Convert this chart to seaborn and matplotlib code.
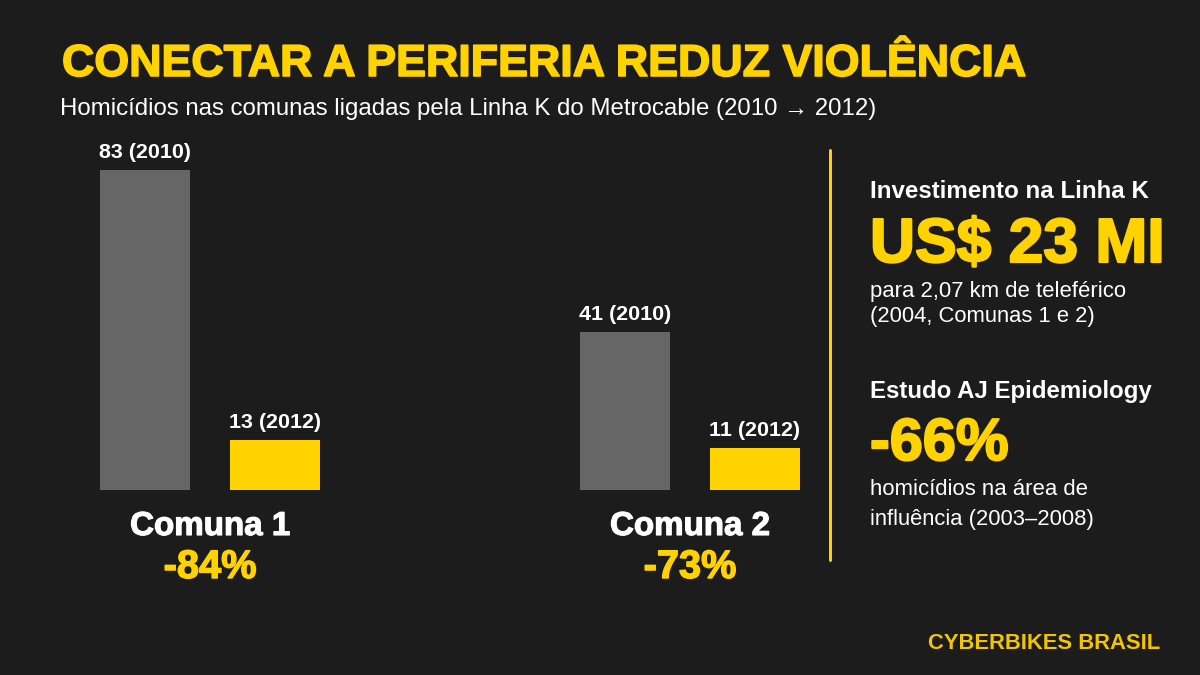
import matplotlib
matplotlib.use("Agg")
import matplotlib.pyplot as plt
import matplotlib.transforms as mtransforms
import matplotlib.patheffects as pe
from matplotlib import font_manager as fm
from matplotlib.lines import Line2D
import seaborn as sns
import pandas as pd

# ---------------- data ----------------
comunas = ["Comuna 1", "Comuna 2"]
anos = ["2010", "2012"]
homicidios_2010 = [83, 41]
homicidios_2012 = [13, 11]

title = "CONECTAR A PERIFERIA REDUZ VIOLÊNCIA"
subtitle = "Homicídios nas comunas ligadas pela Linha K do Metrocable (2010 → 2012)"
side_head1 = "Investimento na Linha K"
side_big1 = "US$ 23 MI"
side_body1 = ["para 2,07 km de teleférico", "(2004, Comunas 1 e 2)"]
side_head2 = "Estudo AJ Epidemiology"
side_big2 = "-66%"
side_body2 = ["homicídios na área de", "influência (2003–2008)"]
footer = "CYBERBIKES BRASIL"

# ---------------- style ----------------
BG = "#1c1c1c"
YELLOW = "#FFD200"
GRAY = "#666666"
WHITE = "#FFFFFF"
W, H = 1200, 675
FAMS = ["Liberation Sans", "DejaVu Sans"]

sns.set_theme(style="white")
plt.rcParams["font.family"] = FAMS


def fp(kind, size=20):
    if kind in ("heavy", "bold"):
        return fm.FontProperties(family=FAMS, weight="bold", size=size)
    return fm.FontProperties(family=FAMS, weight="normal", size=size)


fig = plt.figure(figsize=(12, 6.75), dpi=100, facecolor=BG)
renderer = fig.canvas.get_renderer()


def make_heavy(t, color):
    t.set_path_effects([pe.withStroke(linewidth=t.get_fontsize() * 0.035,
                                      foreground=color)])


def fit_text(x, y, s, target_w, color, kind, ha="left", transform=None):
    """Place text with baseline at pixel y, scaled to a target pixel width."""
    kw = dict(color=color, fontproperties=fp(kind, 20), ha=ha, va="baseline")
    if transform is None:
        t = fig.text(x / W, 1 - y / H, s, **kw)
    else:
        t = fig.text(x, 1 - y / H, s, transform=transform, **kw)
    bb = t.get_window_extent(renderer)
    t.set_fontsize(20 * target_w / bb.width)
    if kind == "heavy":
        make_heavy(t, color)
    return t


# ---------------- bars ----------------
df = pd.DataFrame({
    "comuna": comunas * 2,
    "ano": [anos[0]] * 2 + [anos[1]] * 2,
    "homicidios": homicidios_2010 + homicidios_2012,
})

ax = fig.add_axes([60 / W, 1 - 490 / H, 780 / W, 350 / H])
ax.set_facecolor(BG)
sns.barplot(data=df, x="comuna", y="homicidios", hue="ano", order=comunas,
            hue_order=anos, palette={anos[0]: GRAY, anos[1]: YELLOW},
            width=0.5417, gap=0.3077, dodge=True, saturation=1,
            legend=False, ax=ax, linewidth=0)
ax.set_xlim(-0.3125, 1.3125)
ax.set_ylim(0, 350 / (320 / 83))
ax.axis("off")

bold_fs = None
for cont, ano in zip(ax.containers, anos):
    for patch, val in zip(cont.patches, df[df["ano"] == ano]["homicidios"]):
        cx = patch.get_x() + patch.get_width() / 2
        t = ax.annotate(f"{val} ({ano})", (cx, val), xytext=(0, 12 * 0.72),
                        textcoords="offset points", ha="center", va="baseline",
                        color=WHITE, fontproperties=fp("bold", 20))
        if bold_fs is None:
            bb = t.get_window_extent(renderer)
            bold_fs = 20 * 92 / bb.width
        t.set_fontsize(bold_fs)

# group labels and reductions
blend = mtransforms.blended_transform_factory(ax.transData, fig.transFigure)
for i, c in enumerate(comunas):
    pct = round((homicidios_2012[i] - homicidios_2010[i]) / homicidios_2010[i] * 100)
    fit_text(i, 535, c, 160, WHITE, "heavy", ha="center", transform=blend)
    fit_text(i, 578, f"{pct}%", 93, YELLOW, "heavy", ha="center", transform=blend)

# ---------------- header ----------------
fit_text(62, 76, title, 963, YELLOW, "heavy")
fit_text(60, 115, subtitle, 817, WHITE, "regular")

# ---------------- side panel ----------------
fig.add_artist(Line2D([830 / W, 830 / W], [1 - 150 / H, 1 - 560 / H],
                      color=YELLOW, lw=3 * 0.72, transform=fig.transFigure))

fit_text(870, 198, side_head1, 278, WHITE, "bold")
fit_text(870, 262, side_big1, 295, YELLOW, "heavy")
fit_text(870, 297, side_body1[0], 255, WHITE, "regular")
fit_text(870, 322, side_body1[1], 225, WHITE, "regular")

fit_text(870, 398, side_head2, 282, WHITE, "bold")
fit_text(870, 460, side_big2, 139, YELLOW, "heavy")
fit_text(870, 495, side_body2[0], 217, WHITE, "regular")
fit_text(870, 525, side_body2[1], 224, WHITE, "regular")

# ---------------- footer ----------------
fit_text(1160, 649, footer, 232, "#F2C500", "bold", ha="right")

fig.savefig("out.png", dpi=100, facecolor=BG)
